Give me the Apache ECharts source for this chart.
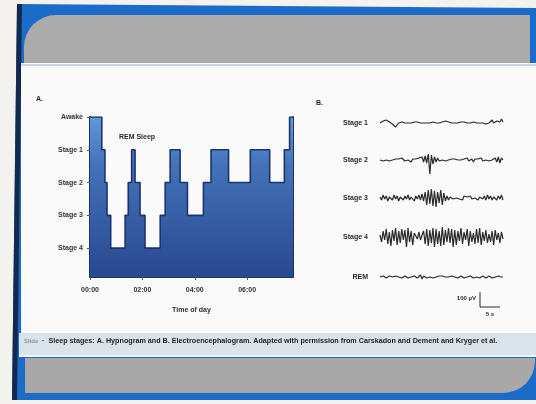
<!DOCTYPE html>
<html>
<head>
<meta charset="utf-8">
<script src="https://cdn.jsdelivr.net/npm/echarts@6/dist/echarts.min.js"></script>
<style>
html,body{margin:0;padding:0;background:#f4f2ef;}
#chart{width:536px;height:404px;}
</style>
</head>
<body>
<div id="chart"></div>
<script>
// ---- Hypnogram (panel A) ----
const stageNames = ['Stage 4', 'Stage 3', 'Stage 2', 'Stage 1', 'Awake']; // values 1..5
const stageValues = [1, 2, 3, 4, 5];
const segmentStart = [0, 0.45, 0.57, 0.65, 0.79, 1.34, 1.46, 1.59, 1.72, 1.91, 2.10, 2.68, 2.87, 3.06, 3.44, 3.72, 4.33, 4.62, 5.29, 6.12, 6.86, 7.42, 7.62];
const segmentStage = [5, 4, 3, 2, 1, 2, 3, 4, 3, 2, 1, 2, 3, 4, 3, 2, 3, 4, 3, 4, 3, 4, 5];
const recordEnd = 7.75;
const tickHours = [0, 2, 4, 6];
const timeLabels = ['00:00', '02:00', '04:00', '06:00'];

// ---- EEG traces (panel B) ----
const traceNames = ['Stage 1', 'Stage 2', 'Stage 3', 'Stage 4', 'REM'];
const eegStage1 = [0,1,2,3,3,2,1,0,-1,-3,-4,-2,0,2,1,1,0,1,0,1,0,0,1,0,1,0,0,1,0,-1,0,1,0,0,1,2,0,1,0,0,1,0,2,0,1,-1,0,1,0,1,0,0,1,0,1,2,0,1,0,-1,1,0,0,1,0,1,0,2,-1,1,0,1,3,0,1,2,0,1,4,1];
const eegStage2 = [0,1,-1,1,0,2,-1,1,0,-2,1,0,1,-1,2,0,-1,1,0,2,-2,1,0,1,-1,2,0,3,-2,4,-3,6,-14,5,-4,3,-2,2,-1,1,0,2,-1,1,0,-2,1,0,1,-1,0,1,0,-1,1,0,2,-1,0,1,-2,1,0,1,-1,2,-1,1,0,2,-1,1,0,-1,2,-2,3,-3,2,0];
const eegStage3 = [1,-2,3,-1,2,-3,1,2,-2,3,-1,2,-3,1,3,-2,2,-1,3,-2,1,2,-3,2,-1,3,-2,4,-3,6,-7,8,-6,9,-8,7,-9,6,-5,8,-7,5,-3,2,-2,1,2,-1,1,0,2,-1,1,-2,2,0,1,-1,2,-1,1,0,2,-2,1,1,-1,2,-2,3,-1,2,-2,1,3,-2,2,-1,3,-2];
const eegStage4 = [2,-5,6,-3,8,-7,5,-9,7,-4,9,-8,6,-6,8,-3,7,-10,9,-5,6,-8,4,3,-2,5,-3,2,6,-7,8,-9,7,-6,9,-10,8,-7,6,-9,10,-8,7,-5,9,-6,8,-10,7,-8,6,-4,9,-7,5,-3,8,-9,6,-5,4,-7,8,-6,9,-8,5,-4,7,-6,3,-5,6,-8,7,-3,4,-6,5,-2];
const eegRem = [0,0,1,0,-1,0,1,0,0,-1,1,0,0,1,-1,0,1,0,-1,1,0,0,1,2,-1,1,2,-2,1,2,-1,1,0,2,-1,1,0,-1,1,0,1,-1,0,1,0,-1,1,0,0,1,-1,0,1,0,-1,1,0,0,1,0,-1,1,0,1,-1,0,1,0,-1,0,1,0,-1,1,0,0,1,-1,0,0];
const eegTraces = [eegStage1, eegStage2, eegStage3, eegStage4, eegRem];

// build hypnogram points
const hypno = segmentStart.map((t, i) => [t, segmentStage[i]]);
hypno.push([recordEnd, segmentStage[segmentStage.length - 1]]);

const NAVY = '#1b3470';
const FONT = 'Liberation Sans, Arial, sans-serif';
const traceCenters = [123, 160, 198, 237, 277];

const grids = [{ left: 90, top: 117, width: 203, height: 160 }];
const xAxes = [{
  type: 'value', gridIndex: 0, min: 0, max: recordEnd,
  axisLine: { lineStyle: { color: NAVY, width: 2 } },
  axisTick: { customValues: tickHours, length: 3, lineStyle: { color: '#555' } },
  axisLabel: {
    customValues: tickHours, margin: 10, fontSize: 7, fontWeight: 'bold', color: '#333', fontFamily: FONT,
    formatter: v => { const k = tickHours.indexOf(v); return k >= 0 ? timeLabels[k] : ''; }
  },
  splitLine: { show: false },
  name: 'Time of day', nameLocation: 'middle', nameGap: 30,
  nameTextStyle: { fontSize: 7, fontWeight: 'bold', color: '#333', fontFamily: FONT }
}];
const yAxes = [{
  type: 'value', gridIndex: 0, min: 0.12, max: 5,
  axisLine: { show: true, lineStyle: { color: NAVY, width: 2 } },
  axisTick: { show: true, customValues: stageValues, length: 3, lineStyle: { color: '#555' } },
  axisLabel: {
    customValues: stageValues, margin: 7, fontSize: 7, fontWeight: 'bold', color: '#333', fontFamily: FONT,
    formatter: v => { const k = stageValues.indexOf(v); return k >= 0 ? stageNames[k] : ''; }
  },
  splitLine: { show: false }
}, {
  type: 'value', gridIndex: 0, min: 0.12, max: 5, position: 'right',
  axisLine: { show: true, lineStyle: { color: NAVY, width: 2 } },
  axisTick: { show: false }, axisLabel: { show: false }, splitLine: { show: false }
}];
const series = [{
  type: 'line', xAxisIndex: 0, yAxisIndex: 0, step: 'end', symbol: 'none', data: hypno,
  lineStyle: { color: NAVY, width: 1.6 },
  areaStyle: {
    origin: 'start', opacity: 1,
    color: { type: 'linear', x: 0, y: 0, x2: 0, y2: 1, colorStops: [
      { offset: 0, color: '#5f98d8' }, { offset: 0.3, color: '#4472b8' }, { offset: 1, color: '#284890' }
    ] }
  },
  z: 3
}];

eegTraces.forEach((arr, i) => {
  const gi = i + 1;
  grids.push({ left: 380, width: 123, top: traceCenters[i] - 18, height: 36 });
  xAxes.push({ type: 'category', gridIndex: gi, data: arr.map((_, j) => j), show: false, boundaryGap: false });
  yAxes.push({ type: 'value', gridIndex: gi, min: -18, max: 18, show: false });
  series.push({
    type: 'line', xAxisIndex: gi, yAxisIndex: gi + 1, data: arr, symbol: 'none',
    lineStyle: { color: '#2a2a2a', width: 1.2 }, silent: true
  });
});

const txt = (x, y, s, o) => Object.assign({
  type: 'text', x, y, z: 20,
  style: Object.assign({ text: s, fontSize: 7, fontWeight: 'bold', fill: '#2a2a2a', fontFamily: FONT, textVerticalAlign: 'middle' }, o || {})
});

const graphics = [
  // slide frame
  { type: 'polygon', z: -10, shape: { points: [[17, 4], [536, 8], [536, 400], [12, 400]] }, style: { fill: '#1a6cc8' } },
  { type: 'polygon', z: -9, shape: { points: [[17, 4], [22, 4], [17, 400], [12, 400]] }, style: { fill: '#132a4e' } },
  { type: 'rect', z: -8, shape: { x: 24, y: 15, width: 506, height: 48, r: [32, 0, 0, 0] }, style: { fill: '#ababab' } },
  { type: 'rect', z: -8, shape: { x: 21, y: 63, width: 515, height: 270 }, style: { fill: '#fafafa' } },
  { type: 'rect', z: -7, shape: { x: 21, y: 64, width: 515, height: 2 }, style: { fill: '#c9d6e4' } },
  { type: 'rect', z: -8, shape: { x: 19, y: 333, width: 517, height: 24 }, style: { fill: '#dbe3ea' } },
  { type: 'rect', z: -7, shape: { x: 19, y: 355, width: 517, height: 2 }, style: { fill: '#f2f5f8' } },
  { type: 'rect', z: -8, shape: { x: 25, y: 358, width: 510, height: 35, r: [0, 0, 32, 0] }, style: { fill: '#a8a8a8' } },
  { type: 'rect', z: -8, shape: { x: 0, y: 400, width: 536, height: 4 }, style: { fill: '#f4f2ef' } },
  // panel labels
  txt(36, 99, 'A.'),
  txt(316, 103, 'B.'),
  txt(137, 137, 'REM Sleep', { textAlign: 'center' }),
  // EEG labels
  ...traceNames.map((n, i) => txt(368, traceCenters[i], n, { textAlign: 'right' })),
  // scale bar
  { type: 'line', z: 20, shape: { x1: 480, y1: 292, x2: 480, y2: 307 }, style: { stroke: '#2a2a2a', lineWidth: 1 } },
  { type: 'line', z: 20, shape: { x1: 480, y1: 307, x2: 500, y2: 307 }, style: { stroke: '#2a2a2a', lineWidth: 1 } },
  txt(476, 298, '100 µV', { textAlign: 'right', fontSize: 6 }),
  txt(490, 314, '5 s', { textAlign: 'center', fontSize: 6 }),
  // caption
  txt(24, 341, 'Slide', { fill: '#8a97a6', fontSize: 6 }),
  txt(42, 341, '\u00b7  Sleep stages: A. Hypnogram and B. Electroencephalogram. Adapted with permission from Carskadon and Dement and Kryger et al.', { fontSize: 7.2, fill: '#1e1e1e' })
];

const chart = echarts.init(document.getElementById('chart'), null, { renderer: 'canvas' });
chart.setOption({
  backgroundColor: '#f4f2ef',
  animation: false,
  grid: grids,
  xAxis: xAxes,
  yAxis: yAxes,
  series: series,
  graphic: graphics
});
</script>
</body>
</html>
